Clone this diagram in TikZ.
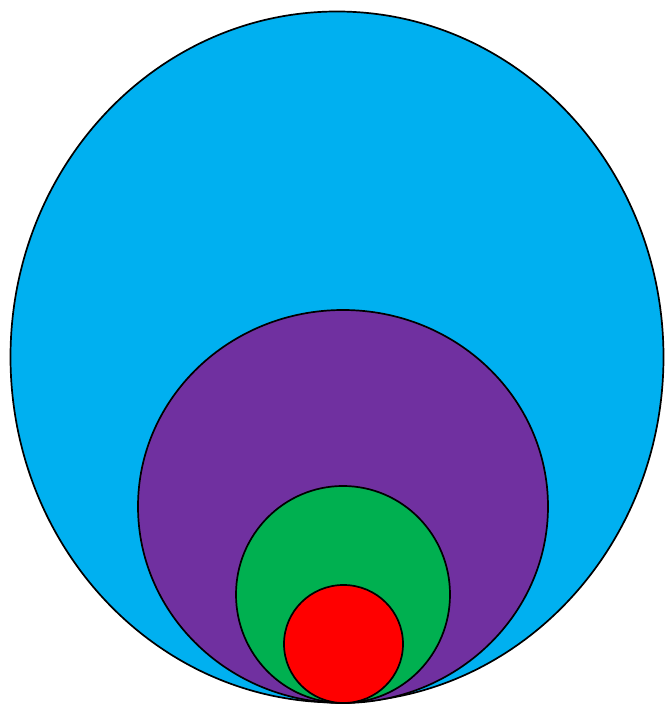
\documentclass[tikz,border=0pt]{standalone}
\definecolor{cblue}{RGB}{0,176,240}
\definecolor{cpurple}{RGB}{112,48,160}
\definecolor{cgreen}{RGB}{0,176,80}
\definecolor{cred}{RGB}{255,0,0}
\begin{document}
\begin{tikzpicture}[x=1pt,y=1pt,ring/.style={draw=black,line width=1.7pt}]
\useasboundingbox (0,0) rectangle (664,704);
\filldraw[ring,fill=cblue] (337,347) ellipse [x radius=326.5, y radius=345.5];
\filldraw[ring,fill=cpurple] (343,197.5) ellipse [x radius=205, y radius=196.5];
\filldraw[ring,fill=cgreen] (343,109.5) ellipse [x radius=107, y radius=108.5];
\filldraw[ring,fill=cred] (343.5,60) ellipse [x radius=59.5, y radius=59];
\end{tikzpicture}
\end{document}
